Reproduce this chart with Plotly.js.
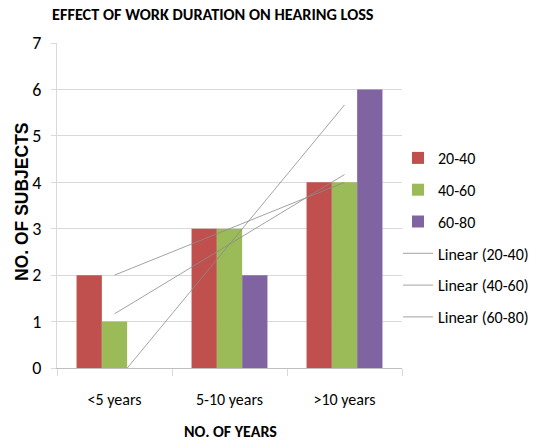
<!DOCTYPE html>
<html>
<head>
<meta charset="utf-8">
<script src="https://cdn.plot.ly/plotly-3.0.1.min.js"></script>
<style>html,body{margin:0;padding:0;background:#fff}#chart{width:538px;height:444px}</style>
</head>
<body>
<div id="chart"></div>
<script>
var categories = ["<5 years", "5-10 years", ">10 years"];
var seriesNames = ["20-40", "40-60", "60-80"];
var s2040 = [2, 3, 4];
var s4060 = [1, 3, 4];
var s6080 = [0, 2, 6];
var colors = ["#C0504D", "#9BBB59", "#8064A2"];
var yTicks = [0, 1, 2, 3, 4, 5, 6, 7];

var CAL = "Carlito, Liberation Sans, sans-serif";
var series = [s2040, s4060, s6080];

function linFit(vals) {
  var n = vals.length, sx = 0, sy = 0, sxx = 0, sxy = 0;
  for (var i = 0; i < n; i++) { var x = i + 1; sx += x; sy += vals[i]; sxx += x * x; sxy += x * vals[i]; }
  var b = (n * sxy - sx * sy) / (n * sxx - sx * sx);
  var a = (sy - b * sx) / n;
  return [a + b * 1, a + b * n];
}

var traces = [];
series.forEach(function (vals, i) {
  traces.push({
    type: "bar", x: categories, y: vals, name: seriesNames[i],
    marker: { color: colors[i] }, legendgroup: "g" + i
  });
});
series.forEach(function (vals, i) {
  traces.push({
    type: "scatter", mode: "lines", x: [categories[0], categories[categories.length - 1]],
    y: linFit(vals), name: "Linear (" + seriesNames[i] + ")",
    line: { color: "#8c8c8c", width: 0.8 }, legendgroup: "t" + i
  });
});

var L = 57, R = 402, T = 43, B = 368;
var layout = {
  width: 538, height: 444,
  margin: { l: L, r: 538 - R, t: T, b: 444 - B, autoexpand: false },
  paper_bgcolor: "#fff", plot_bgcolor: "#fff",
  barmode: "group", bargap: 0.34, bargroupgap: 0,
  showlegend: true,
  title: {
    text: "<b>EFFECT OF WORK DURATION ON HEARING LOSS</b>",
    font: { family: CAL, size: 16.3, color: "#000" },
    xref: "container", yref: "container", x: 52 / 538, xanchor: "left",
    y: 1 - 14 / 444, yanchor: "middle"
  },
  xaxis: {
    type: "category", tickson: "boundaries", ticks: "outside", ticklen: 7,
    tickcolor: "#d9d9d9", showline: true, linecolor: "#bfbfbf", linewidth: 1,
    showgrid: false, tickfont: { family: CAL, size: 16, color: "#000" },
    ticklabelstandoff: 17
  },
  yaxis: {
    range: [0, 7], tickvals: yTicks, ticks: "outside", ticklen: 5, tickcolor: "#d9d9d9",
    showgrid: true, gridcolor: "#d9d9d9", gridwidth: 1, zeroline: false,
    showline: true, linecolor: "#d9d9d9", linewidth: 1,
    tickfont: { family: CAL, size: 18, color: "#000" },
    ticklabelstandoff: 6
  },
  annotations: [
    {
      text: "<b>NO. OF SUBJECTS</b>", textangle: -90, showarrow: false,
      xref: "paper", yref: "paper", x: (22 - L) / (R - L), y: (B - 202) / (B - T),
      xanchor: "center", yanchor: "middle",
      font: { family: "Liberation Sans, Arial, sans-serif", size: 17.5, color: "#000" }
    },
    {
      text: "<b>NO. OF YEARS</b>", showarrow: false,
      xref: "paper", yref: "paper", x: (230 - L) / (R - L), y: (B - 431) / (B - T),
      xanchor: "center", yanchor: "middle",
      font: { family: CAL, size: 16, color: "#000" }
    }
  ],
  legend: {
    x: (398 - L) / (R - L), xanchor: "left", y: (B - 141) / (B - T), yanchor: "top",
    font: { family: CAL, size: 16, color: "#000" },
    traceorder: "grouped", tracegroupgap: 8, itemwidth: 30,
    bgcolor: "rgba(0,0,0,0)"
  }
};

Plotly.newPlot("chart", traces, layout, { staticPlot: true, displayModeBar: false });
</script>
</body>
</html>
